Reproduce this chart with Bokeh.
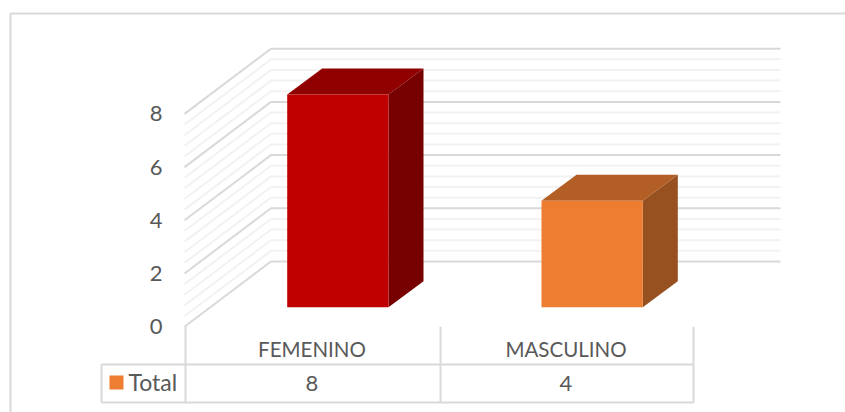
from bokeh.plotting import figure
from bokeh.models import Range1d
from bokeh.core.properties import value
from bokeh.embed import file_html
from bokeh.resources import INLINE

categories = ["FEMENINO", "MASCULINO"]
totals = [8, 4]
tick_values = [0, 2, 4, 6, 8]
series_name = "Total"

W, H = 845, 412
PX = 26.6                # pixels per unit on the value scale
BASE = 306.7             # page y of value 0 at the bar fronts
def vy(page_y):          # page y -> value-scale coordinate
    return (BASE - page_y) / PX

p = figure(width=W, height=H, output_backend="svg", toolbar_location=None,
           x_range=Range1d(0, W), y_range=Range1d(vy(H), vy(0)),
           min_border=0, min_border_left=0, min_border_right=0,
           min_border_top=0, min_border_bottom=0)
p.axis.visible = False
p.grid.visible = False
p.outline_line_color = None

GRID = "#d9d9d9"
MINOR = "#f2f2f2"
TXT = "#595959"
FONT = value("Lato")

# chart frame: top and left edges (the others run off the picture)
p.line([10, 10, 845], [vy(412), vy(13), vy(13)], line_color=GRID, line_width=2)

# walls
SIDE_X, WALL_X, END_X = 184, 270.5, 780
FRONT = vy(326.2)
BACK = vy(261)
minor_vals = [i * 0.4 for i in range(0, 21)]
for step, v in enumerate(minor_vals):
    if step % 5 == 0:
        continue
    p.line([SIDE_X, WALL_X, END_X], [FRONT + v, BACK + v, BACK + v], line_color=MINOR, line_width=2)
for v in tick_values:
    p.line([SIDE_X, WALL_X, END_X], [FRONT + v, BACK + v, BACK + v], line_color=GRID, line_width=2)

# bars
BAR_L = [286.7, 541.0]
BAR_W = 101.3
DX, DY = 35.0, 26.0 / PX
front = ["#c00000", "#ed7d31"]
top = ["#900000", "#b25e25"]
side = ["#770000", "#97501f"]
for x0, v, cf, ct, cs in zip(BAR_L, totals, front, top, side):
    x1 = x0 + BAR_W
    p.patch([x1, x1 + DX, x1 + DX, x1], [0, DY, v + DY, v], fill_color=cs, line_color=None)
    p.patch([x0, x1, x1 + DX, x0 + DX], [v, v, v + DY, v + DY], fill_color=ct, line_color=None)
    p.quad(left=[x0], right=[x1], bottom=[0], top=[v], fill_color=cf, line_color=None)

# value labels
p.text([162] * 5, [FRONT + v for v in tick_values], text=[str(v) for v in tick_values],
       text_font=FONT, text_font_size="22px", text_color=TXT, text_align="right", text_baseline="middle")

# data table
VX = [185, 440, 693]
ROW1, ROW2, TOP = vy(364), vy(402), vy(326.2)
p.segment(VX, [TOP] * 3, VX, [ROW2] * 3, line_color=GRID, line_width=2)
p.segment([101, 101, 101], [ROW1, ROW2, ROW1], [693, 693, 101], [ROW1, ROW2, ROW2], line_color=GRID, line_width=2)
mid = [(VX[0] + VX[1]) / 2 - 1, (VX[1] + VX[2]) / 2 - 1]
p.text(mid, [vy(348)] * 2, text=categories, text_font=FONT, text_font_size="20.5px", text_color=TXT,
       text_align="center", text_baseline="middle")
p.text(mid, [vy(382.5)] * 2, text=[str(t) for t in totals], text_font=FONT, text_font_size="22px", text_color=TXT,
       text_align="center", text_baseline="middle")
p.quad(left=[109], right=[123], top=[vy(375)], bottom=[vy(389)], fill_color="#ed7d31", line_color=None)
p.text([128], [vy(381.5)], text=[series_name], text_font=FONT, text_font_size="23px", text_color=TXT,
       text_align="left", text_baseline="middle")

open("out.html", "w").write(file_html(p, INLINE))
